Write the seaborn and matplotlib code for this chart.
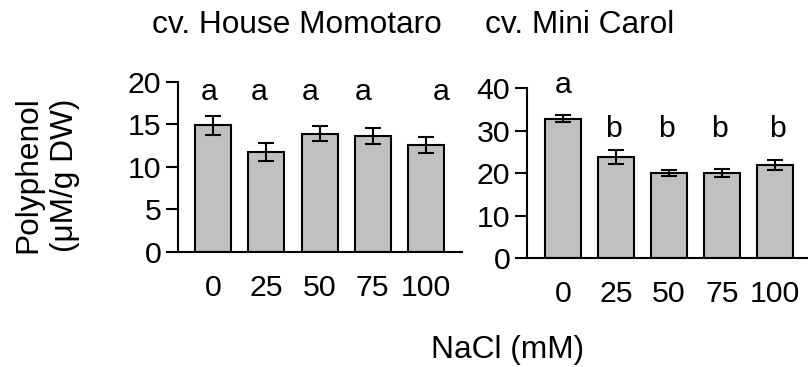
import matplotlib
matplotlib.use("Agg")
import matplotlib.pyplot as plt
import seaborn as sns
import pandas as pd

sns.set_style("white")
plt.rcParams['font.family'] = ['Liberation Sans', 'DejaVu Sans']
plt.rcParams['text.color'] = 'black'
plt.rcParams['axes.labelcolor'] = 'black'
plt.rcParams['xtick.color'] = 'black'
plt.rcParams['ytick.color'] = 'black'

# ---- data ----
nacl_labels = ["0", "25", "50", "75", "100"]
momotaro_mean = [14.9, 11.8, 13.9, 13.6, 12.6]
momotaro_err = [1.1, 1.05, 0.9, 0.95, 0.9]
momotaro_letters = ["a", "a", "a", "a", "a"]
carol_mean = [32.8, 23.7, 20.0, 20.0, 21.9]
carol_err = [0.8, 1.6, 0.7, 1.05, 1.15]
carol_letters = ["a", "b", "b", "b", "b"]

title_left = "cv. House Momotaro"
title_right = "cv. Mini Carol"
ylabel = "Polyphenol\n(\u03bcM/g DW)"
xlabel = "NaCl (mM)"

FS = 21.8
FS_LAB = 22.8
BAR = "#c0c0c0"
LW = 1.5

fig = plt.figure(figsize=(8.08, 3.67), dpi=100)
axL = fig.add_axes([0.2203, 0.3134, 0.3515, 0.4632])
axR = fig.add_axes([0.6522, 0.2970, 0.3478, 0.4632])


def panel(ax, means, errs, letters, ymax, step, letter_y, letter_dx, xlim):
    df = pd.DataFrame({"NaCl": nacl_labels, "val": means})
    sns.barplot(data=df, x="NaCl", y="val", ax=ax, color=BAR, saturation=1,
                edgecolor="black", linewidth=LW, width=0.676, errorbar=None)
    ax.errorbar(range(len(means)), means, yerr=errs, fmt="none", ecolor="black",
                elinewidth=LW, capsize=5.8, capthick=LW)
    ax.set_ylim(0, ymax)
    ax.set_xlim(*xlim)
    ax.set_yticks(range(0, ymax + 1, step))
    ax.set_xlabel("")
    ax.set_ylabel("")
    for s in ["top", "right"]:
        ax.spines[s].set_visible(False)
    for s in ["left", "bottom"]:
        ax.spines[s].set_linewidth(LW)
        ax.spines[s].set_color("black")
    ax.tick_params(axis="y", direction="out", length=8.6, width=LW,
                   labelsize=FS, pad=3.5, colors="black", left=True)
    ax.tick_params(axis="x", length=0, labelsize=FS, pad=16, colors="black")
    for i, (lt, dx) in enumerate(zip(letters, letter_dx)):
        ax.text(i + dx, letter_y[i], lt, ha="center", va="baseline",
                fontsize=FS, color="black", clip_on=False)
    ax.patch.set_alpha(0)


panel(axL, momotaro_mean, momotaro_err, momotaro_letters, 20, 5,
      [17.9] * 5, [-0.075, -0.14, -0.18, -0.18, 0.28], (-0.657, 4.676))
panel(axR, carol_mean, carol_err, carol_letters, 40, 10,
      [38.75, 28.5, 28.5, 28.5, 28.5], [0.0, -0.057, -0.04, -0.04, 0.04],
      (-0.679, 4.62))

fig.text(297 / 808, 1 - 25 / 367, title_left, ha="center", va="center",
         fontsize=FS_LAB, color="black")
fig.text(580 / 808, 1 - 25 / 367, title_right, ha="center", va="center",
         fontsize=FS_LAB, color="black")
fig.text(508 / 808, 1 - 350 / 367, xlabel, ha="center", va="center",
         fontsize=FS_LAB, color="black")
fig.text(47 / 808, 1 - 175 / 367, ylabel, ha="center", va="center", fontsize=FS_LAB,
         rotation=90, multialignment="center", linespacing=1.3, color="black")

fig.savefig("out.png", dpi=100)
